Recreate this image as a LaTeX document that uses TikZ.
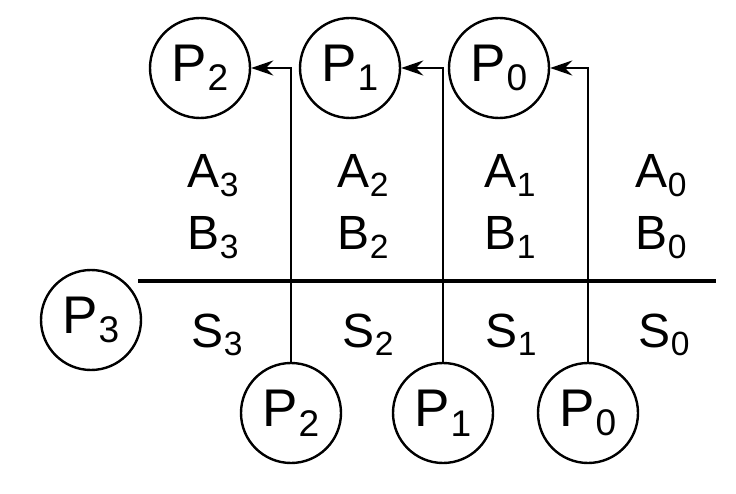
\documentclass[tikz,border=0pt]{standalone}
\usepackage{fontspec}
\setmainfont{Liberation Sans}
\usepackage{graphicx}
\usetikzlibrary{arrows.meta}
\newcommand{\sub}[2]{#1\kern0.5pt\raisebox{-0.18em}{\scalebox{0.7}{#2}}}
\tikzset{proc/.style={draw,circle,line width=2.4pt,minimum size=100pt,inner sep=0pt,font=\fontsize{53}{53}\selectfont},
  bit/.style={inner sep=0pt,anchor=base,font=\fontsize{48}{48}\selectfont},
  arr/.style={-{Stealth[length=22pt,width=15pt]},line width=1.8pt}}
\begin{document}
\begin{tikzpicture}[x=1pt,y=-1pt]
\useasboundingbox (0,0) rectangle (736,494);
% processors, top row and bottom row
\foreach \i/\xt/\xb in {2/200/291,1/350/443,0/499/588}{
  \node[proc] (t\i) at (\xt,68) {\sub{P}{\i}};
  \node[proc] (q\i) at (\xb,413) {\sub{P}{\i}};
}
\node[proc] (p3) at (91,320) {\sub{P}{3}};
% operand bits and sum bits
\foreach \i/\xa/\xs in {3/213/217,2/363/368,1/510/511,0/661/664}{
  \node[bit] (a\i) at (\xa,188) {\sub{A}{\i}};
  \node[bit] (b\i) at (\xa,250) {\sub{B}{\i}};
  \node[bit] (s\i) at (\xs,347) {\sub{S}{\i}};
}
\coordinate (l0) at (138,281);
\coordinate (l1) at (716,281);
\draw[line width=4.5pt] (l0) -- (l1);
% carries
\foreach \i in {2,1,0}
  \draw[arr] (q\i.north) |- (t\i.east);
\end{tikzpicture}
\end{document}
